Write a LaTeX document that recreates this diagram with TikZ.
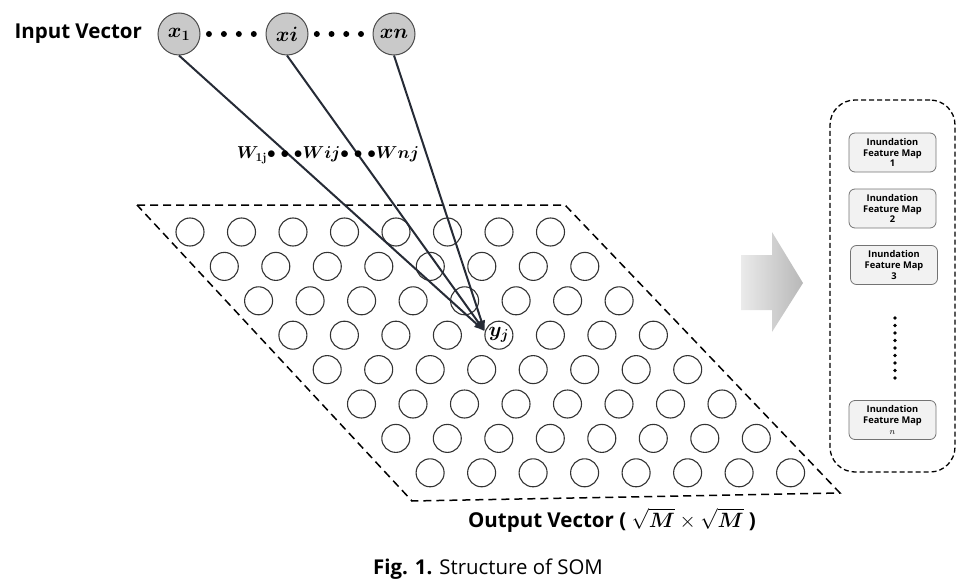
\documentclass[tikz,border=0pt]{standalone}
\usepackage{amsmath,amssymb,bm}
\usepackage[no-math]{fontspec}
\setmainfont{Open Sans}
\usepackage{tikz}
\usetikzlibrary{arrows.meta,positioning,calc}
\tikzset{>={Latex[width=8pt,length=11pt]}}
\definecolor{wirecol}{HTML}{262B36}
\definecolor{inputfill}{HTML}{C9C9C9}

\begin{document}
\begin{tikzpicture}[x=1pt,y=-1pt,
  input/.style={circle,draw=black!70,fill=inputfill,line width=1pt,minimum size=42pt,inner sep=0pt,font=\fontsize{20.74}{20.74}\selectfont},
  cell/.style={circle,draw=black!80,line width=1.1pt,minimum size=28pt,inner sep=0pt},
  fmap/.style={draw=black!55,fill=black!5,line width=0.8pt,rounded corners=6pt,minimum width=87pt,minimum height=39pt,inner sep=1pt,align=center,font=\bfseries\fontsize{9.3}{10.8}\selectfont},
  wire/.style={->,draw=wirecol,line width=2pt},
  biglabel/.style={font=\bfseries\fontsize{20.5}{20.5}\selectfont}]

  \useasboundingbox (0,0) rectangle (975,586);

  \newcommand\Xs{51.5}
  \newcommand\Ys{34.4}
  \newcommand\Sh{34.3}

  % output layer
  \draw[dash pattern=on 8pt off 5pt,line width=1.5pt] (137,205) -- (565,205) -- (840,493) -- (412,501) -- cycle;
  \foreach \r in {1,...,8}
    \foreach \c in {1,...,8}
      {\ifnum\r\c=45\else
        \node[cell] (g\r\c) at (190+\Xs*\c-\Xs+\Sh*\r-\Sh, 232+\Ys*\r-\Ys) {};
      \fi}
  \node[cell,fill=white,font=\fontsize{20.74}{20.74}\selectfont] (yj) at (190+\Xs*4+\Sh*3, 232+\Ys*3) {$\bm{y_j}$};

  % input layer
  \node[input] (x1) at (179,34) {$\bm{x_1}$};
  \node[input] (xi) at (287,34) {$\bm{xi}$};
  \node[input] (xn) at (394,34) {$\bm{xn}$};
  \node[biglabel,left=12pt of x1] (invec) {Input Vector};
  \foreach \t in {0.13,0.36,0.59,0.82}
    {\fill ($(x1.east)!\t!(xi.west)$) circle (3);
     \fill ($(xi.east)!\t!(xn.west)$) circle (3);}

  \draw[wire] (x1.south) -- (yj.165); %% x1->yj
  \draw[wire] (xi.south) -- (yj.165); %% xi->yj
  \draw[wire] (xn.south) -- (yj.165); %% xn->yj

  \node[font=\fontsize{17.28}{17.28}\selectfont] (wts) at (328,155)
    {$\bm{W}_{\mathbf{1j}}{\bullet}\;{\bullet}\;{\bullet}\bm{Wij}{\bullet}\;{\bullet}\;{\bullet}\bm{Wnj}$};

  \node[biglabel] (outvec) at (612,520) {Output Vector ( $\sqrt{\bm{M}}\times\sqrt{\bm{M}}$ )};

  % arrow to the maps
  \shade[left color=black!8,right color=black!28] (741,255) -- (772,255) -- (772,232) -- (803,283)
    -- (772,332) -- (772,310) -- (741,310) -- cycle;

  % feature maps
  \node[draw,dash pattern=on 5pt off 3pt,line width=1.3pt,rounded corners=25pt,minimum width=125pt,minimum height=372pt,inner sep=0pt] (panel) at (892.5,286) {};
  \node[fmap] (fm1) at (892.5,152.5) {Inundation\\Feature Map\\1};
  \node[fmap] (fm2) at (892.5,208.5) {Inundation\\Feature Map\\2};
  \node[fmap] (fm3) at (894,265) {Inundation\\Feature Map\\3};
  \node[fmap] (fmn) at (892.5,420) {Inundation\\Feature Map\\$n$};
  \foreach \k in {0,...,8}
    \fill (895,318+7.5*\k) circle (1.8);

  \node[font=\fontsize{20.4}{20.4}\selectfont] (cap) at (488,569) {\textbf{Fig. 1.} Structure of SOM};

\end{tikzpicture}
\end{document}
